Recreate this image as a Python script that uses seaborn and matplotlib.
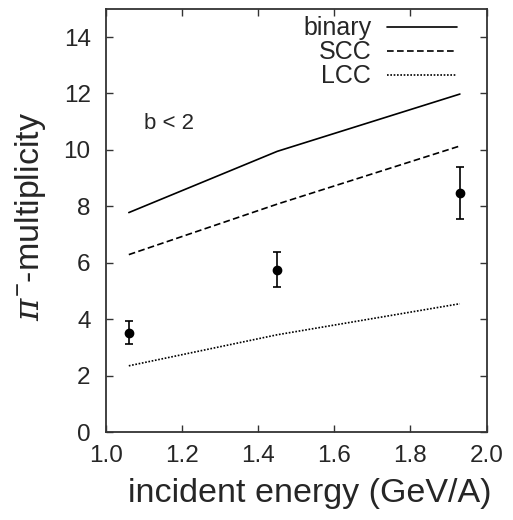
import pandas as pd
import numpy as np
import matplotlib
matplotlib.use('Agg')
import matplotlib.pyplot as plt
import seaborn as sns

# model curves
energy = [1.06, 1.45, 1.93]
binary = [7.78, 9.95, 11.98]
scc = [6.29, 8.08, 10.14]
lcc = [2.35, 3.45, 4.55]

# measured points
exp_energy = [1.06, 1.45, 1.93]
exp_mult = [3.53, 5.76, 8.46]
exp_err = [0.40, 0.62, 0.92]

sns.set_theme(style="ticks")
plt.rcParams['font.family'] = ['Liberation Sans', 'DejaVu Sans']
plt.rcParams['mathtext.fontset'] = 'custom'
plt.rcParams['mathtext.rm'] = 'Liberation Sans'
plt.rcParams['mathtext.it'] = 'DejaVu Serif:italic'

df = pd.DataFrame({
    'energy': energy * 3,
    'mult': binary + scc + lcc,
    'model': ['binary'] * 3 + ['SCC'] * 3 + ['LCC'] * 3,
})

fig = plt.figure(figsize=(5.13, 5.2), dpi=100)
ax = fig.add_axes([0.2066, 0.169, 0.7418, 0.814])

sns.lineplot(data=df, x='energy', y='mult', hue='model', style='model',
             palette={'binary': 'black', 'SCC': 'black', 'LCC': 'black'},
             dashes={'binary': '', 'SCC': (4, 2), 'LCC': (1, 1)},
             linewidth=1.2, ax=ax)

ax.errorbar(exp_energy, exp_mult, yerr=exp_err, fmt='o', color='black',
            markersize=6, capsize=3, elinewidth=1.2, capthick=1.2)

ax.set_xlim(1.0, 2.0)
ax.set_ylim(0, 15)
ax.set_xticks(np.arange(1.0, 2.01, 0.2))
ax.set_xticklabels(['1.0', '1.2', '1.4', '1.6', '1.8', '2.0'])
ax.set_yticks(range(0, 15, 2))
ax.tick_params(direction='in', length=5, width=1, top=True, right=True,
               labelsize=17.5, color='#333333')
ax.tick_params(axis='y', pad=11)
ax.tick_params(axis='x', pad=9)
for s in ax.spines.values():
    s.set_linewidth(1.3)
    s.set_color('#333333')

ax.set_xlabel('incident energy (GeV/A)', fontsize=24.5, labelpad=8, x=0.536)
ax.set_ylabel(r'$\pi^{\mathrm{-}}$-multiplicity', fontsize=24.5, labelpad=11, y=0.51)

ax.text(1.1, 10.73, 'b < 2', fontsize=16)

handles, labels = ax.get_legend_handles_labels()
ax.legend(handles, labels, loc='upper right', bbox_to_anchor=(0.943, 1.0),
          frameon=False, fontsize=18, markerfirst=False, handlelength=2.8,
          handletextpad=0.64, labelspacing=0.0, borderaxespad=0.0,
          borderpad=0.3)

fig.savefig('out.png', dpi=100)
